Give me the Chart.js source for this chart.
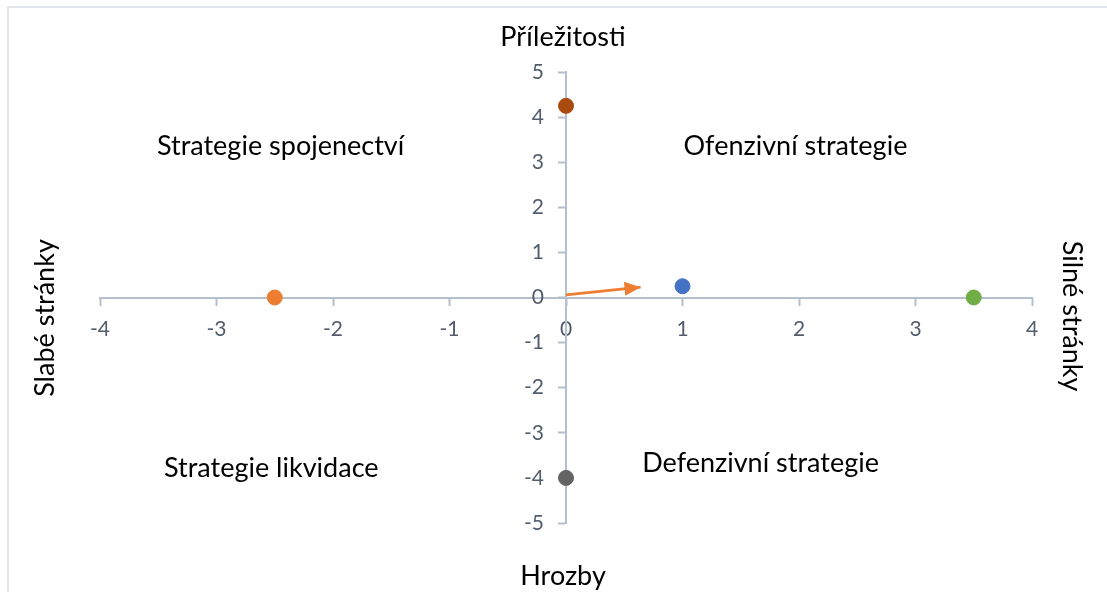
<!DOCTYPE html>
<html>
<head>
<meta charset="utf-8">
<script src="https://cdn.jsdelivr.net/npm/chart.js@4"></script>
<style>
  html, body { margin: 0; padding: 0; background: #fff; }
  #wrap { position: relative; width: 1107px; height: 592px; }
</style>
</head>
<body>
<div id="wrap"><canvas id="swotChart" width="1107" height="592"></canvas></div>
<script>
// data
var pointX = [0, -2.5, 1, 3.5, 0];
var pointY = [4.25, 0, 0.25, 0, -4];
var pointColors = ['#A94A0E', '#ED7D31', '#4472C4', '#70AD47', '#636363'];
var arrowX = [0, 0.64];
var arrowY = [0.06, 0.23];
var xTicks = [-4, -3, -2, -1, 0, 1, 2, 3, 4];
var yTicks = [-5, -4, -3, -2, -1, 0, 1, 2, 3, 4, 5];

var quadrantLabels = [
	{text: 'Strategie spojenectví', x: -2.45, y: 3.35},
	{text: 'Ofenzivní strategie', x: 1.97, y: 3.35},
	{text: 'Strategie likvidace', x: -2.53, y: -3.79},
	{text: 'Defenzivní strategie', x: 1.67, y: -3.68}
];

var FONT = 'Lato, "Open Sans", sans-serif';
var axisColor = '#B4BFD0';
var tickColor = '#525C6D';
var TEXT_SIZE = 27;
var TICK_SIZE = 21;

var scatterData = pointX.map(function(x, i){ return {x: x, y: pointY[i]}; });
var arrowData = arrowX.map(function(x, i){ return {x: x, y: arrowY[i]}; });

// frame, texts, y labels and arrow head
var decorPlugin = {
	id: 'decor',
	beforeDraw: function(chart){
		var ctx = chart.ctx;
		ctx.save();
		ctx.strokeStyle = '#E1E4E8';
		ctx.lineWidth = 2;
		ctx.strokeRect(8, 7, 1200, 700);
		ctx.restore();
	},
	afterDatasetsDraw: function(chart){
		var ctx = chart.ctx;
		var xs = chart.scales.x, ys = chart.scales.y;
		// arrow head
		var x1 = xs.getPixelForValue(arrowX[0]), y1 = ys.getPixelForValue(arrowY[0]);
		var x2 = xs.getPixelForValue(arrowX[1]), y2 = ys.getPixelForValue(arrowY[1]);
		var a = Math.atan2(y2 - y1, x2 - x1);
		var len = 16, half = 7;
		ctx.save();
		ctx.fillStyle = '#ED7D31';
		ctx.beginPath();
		ctx.moveTo(x2, y2);
		ctx.lineTo(x2 - len*Math.cos(a) + half*Math.sin(a), y2 - len*Math.sin(a) - half*Math.cos(a));
		ctx.lineTo(x2 - len*Math.cos(a) - half*Math.sin(a), y2 - len*Math.sin(a) + half*Math.cos(a));
		ctx.closePath();
		ctx.fill();
		ctx.restore();
	},
	afterDraw: function(chart){
		var ctx = chart.ctx;
		var xs = chart.scales.x, ys = chart.scales.y;
		ctx.save();
		// y tick labels left of the axis
		var axisX = xs.getPixelForValue(0);
		ctx.fillStyle = tickColor;
		ctx.font = TICK_SIZE + 'px ' + FONT;
		ctx.textAlign = 'right';
		ctx.textBaseline = 'middle';
		ys.ticks.forEach(function(t){
			ctx.fillText(String(t.value), axisX - 22, ys.getPixelForValue(t.value));
		});

		ctx.fillStyle = '#000';
		ctx.textAlign = 'center';
		ctx.font = TEXT_SIZE + 'px ' + FONT;
		quadrantLabels.forEach(function(l){
			ctx.fillText(l.text, xs.getPixelForValue(l.x), ys.getPixelForValue(l.y));
		});
		ctx.fillText('Příležitosti', 563, 37);
		ctx.fillText('Hrozby', 563, 576);
		ctx.save();
		ctx.translate(45, 318);
		ctx.rotate(-Math.PI/2);
		ctx.fillText('Slabé stránky', 0, 0);
		ctx.restore();
		ctx.save();
		ctx.translate(1072, 316);
		ctx.rotate(Math.PI/2);
		ctx.fillText('Silné stránky', 0, 0);
		ctx.restore();
		ctx.restore();
	}
};

function noSpace(scale){
	if (scale.isHorizontal()) scale.height = 0; else scale.width = 0;
	scale.paddingLeft = 0; scale.paddingRight = 0;
	scale.paddingTop = 0; scale.paddingBottom = 0;
}

new Chart(document.getElementById('swotChart'), {
	type: 'scatter',
	data: {
		datasets: [{
			label: 'arrow',
			data: arrowData,
			showLine: true,
			borderColor: '#ED7D31',
			borderWidth: 2.75,
			pointRadius: 0,
			order: 1
		}, {
			label: 'body',
			data: scatterData,
			pointRadius: 7.5,
			pointBackgroundColor: pointColors,
			pointBorderColor: pointColors,
			pointBorderWidth: 1,
			order: 0
		}]
	},
	options: {
		responsive: false,
		animation: false,
		layout: { padding: {left: 100, right: 75, top: 72, bottom: 69} },
		plugins: { legend: {display: false}, tooltip: {enabled: false} },
		scales: {
			x: {
				type: 'linear',
				min: -4, max: 4,
				position: {y: 0},
				afterFit: noSpace,
				afterBuildTicks: function(scale){ scale.ticks = xTicks.map(function(v){ return {value: v}; }); },
				border: {display: true, color: axisColor, width: 2},
				grid: {drawOnChartArea: false, drawTicks: true, tickLength: 7, tickColor: axisColor, tickWidth: 2},
				ticks: {color: tickColor, font: {family: FONT, size: TICK_SIZE}, padding: 12, maxRotation: 0}
			},
			y: {
				type: 'linear',
				min: -5, max: 5,
				position: {x: 0},
				afterFit: noSpace,
				afterBuildTicks: function(scale){ scale.ticks = yTicks.map(function(v){ return {value: v}; }); },
				border: {display: true, color: axisColor, width: 2},
				grid: {drawOnChartArea: false, drawTicks: true, tickLength: 7, tickColor: axisColor, tickWidth: 2},
				ticks: {display: false}
			}
		}
	},
	plugins: [decorPlugin]
});
</script>
</body>
</html>
